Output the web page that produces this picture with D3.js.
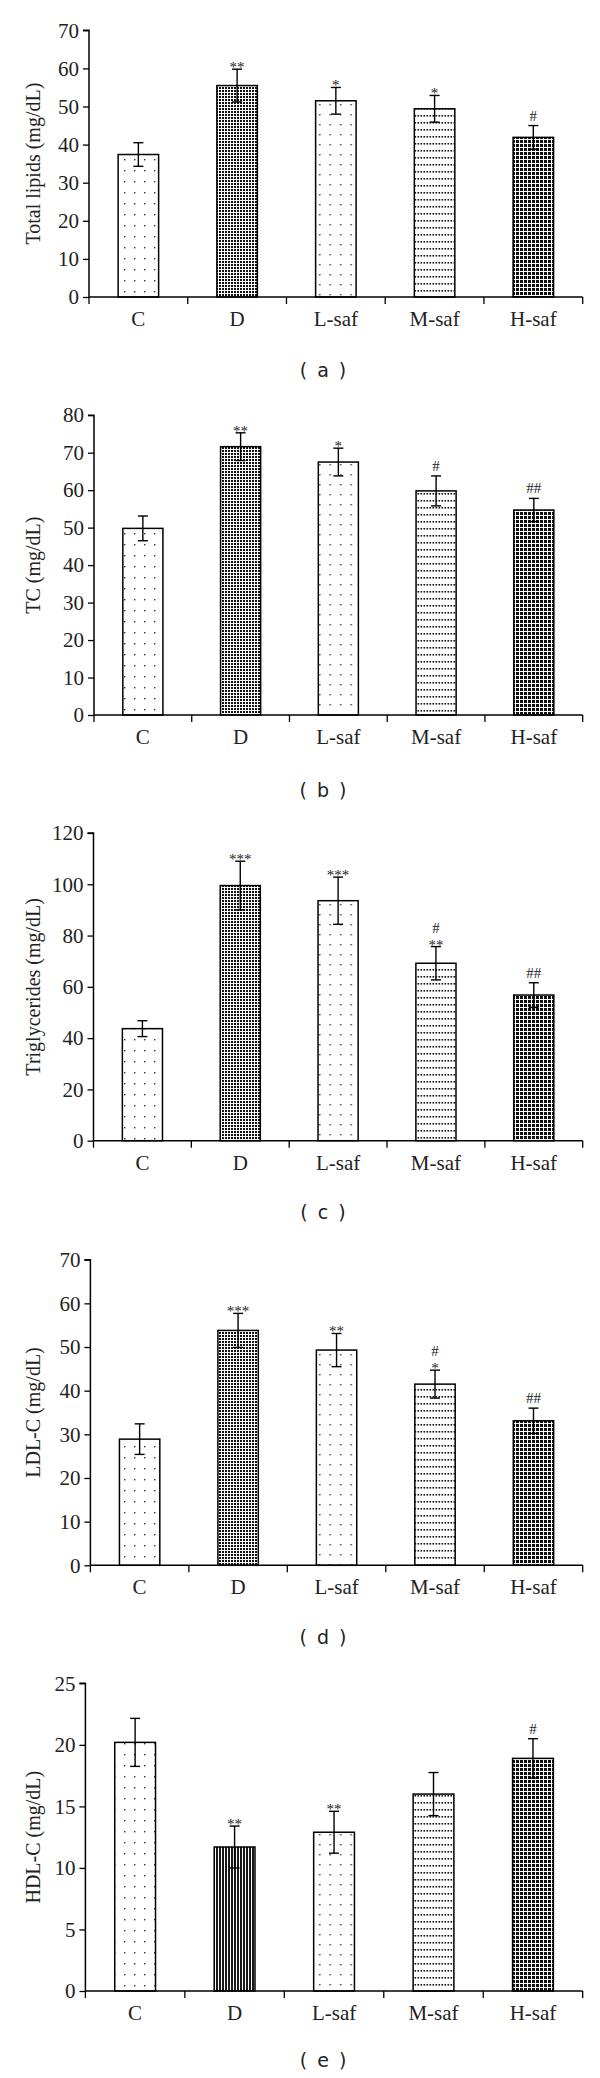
<!DOCTYPE html>
<html><head><meta charset="utf-8">
<script src="https://cdn.jsdelivr.net/npm/d3@7"></script>
<style>html,body{margin:0;padding:0;background:#fff;}svg{display:block;}</style>
</head><body>
<svg id="chart" width="600" height="2078"></svg>
<script>
const categories = ["C", "D", "L-saf", "M-saf", "H-saf"];

const totalLipids = [37.4, 55.5, 51.5, 49.4, 41.9];
const totalLipidsErr = [3.1, 4.3, 3.5, 3.5, 3.1];
const totalLipidsSig = [[], ["**"], ["*"], ["*"], ["#"]];

const tc = [49.8, 71.6, 67.5, 59.8, 54.7];
const tcErr = [3.3, 3.7, 3.7, 4.0, 3.1];
const tcSig = [[], ["**"], ["*"], ["#"], ["##"]];

const tg = [43.7, 99.5, 93.6, 69.2, 56.8];
const tgErr = [3.1, 9.5, 9.2, 6.5, 4.8];
const tgSig = [[], ["***"], ["***"], ["**", "#"], ["##"]];

const ldl = [28.9, 53.8, 49.3, 41.5, 33.1];
const ldlErr = [3.5, 3.9, 3.8, 3.2, 2.9];
const ldlSig = [[], ["***"], ["**"], ["*", "#"], ["##"]];

const hdl = [20.2, 11.7, 12.9, 16.0, 18.9];
const hdlErr = [1.95, 1.7, 1.7, 1.75, 1.6];
const hdlSig = [[], ["**"], ["**"], [], ["#"]];

const yTitles = ["Total lipids (mg/dL)", "TC (mg/dL)", "Triglycerides (mg/dL)", "LDL-C (mg/dL)", "HDL-C (mg/dL)"];
const yMax = [70, 80, 120, 70, 25];
const yStep = [10, 10, 20, 10, 5];
const captions = ["( a )", "( b )", "( c )", "( d )", "( e )"];

// layout (pixels)
const layout = [
  {x0: 89, y0: 297, yTop: 30.3, capY: 377},
  {x0: 94, y0: 715, yTop: 415.2, capY: 797},
  {x0: 93.5, y0: 1140.7, yTop: 833, capY: 1219},
  {x0: 90.4, y0: 1565.3, yTop: 1259.7, capY: 1644},
  {x0: 85.4, y0: 1991, yTop: 1683.3, capY: 2067}
];
const xEnd = 582.7;
const capX = 324;

const svg = d3.select("#chart");
const defs = svg.append("defs");

function pat(id, w, h, bg, draw) {
  const p = defs.append("pattern").attr("id", id).attr("patternUnits", "userSpaceOnUse")
    .attr("width", w).attr("height", h);
  p.append("rect").attr("width", w).attr("height", h).attr("fill", bg);
  draw(p);
}
pat("pC", 10, 11, "#fff", p => p.append("rect").attr("x", 4).attr("y", 5).attr("width", 1.4).attr("height", 1.4).attr("fill", "#333"));
pat("pD", 3, 3, "#fff", p => p.append("rect").attr("x", 0).attr("y", 0).attr("width", 2).attr("height", 2).attr("fill", "#111"));
pat("pDv", 3, 3, "#fff", p => p.append("rect").attr("x", 0).attr("y", 0).attr("width", 2).attr("height", 3).attr("fill", "#1a1a1a"));
pat("pL", 10.5, 10, "#fff", p => p.append("rect").attr("x", 4).attr("y", 4).attr("width", 1.4).attr("height", 1.4).attr("fill", "#333"));
pat("pM", 3, 7, "#fff", p => p.append("rect").attr("x", 0.5).attr("y", 3).attr("width", 1.6).attr("height", 1.6).attr("fill", "#111"));
pat("pH", 4, 4, "#fff", p => p.append("rect").attr("x", 0).attr("y", 0).attr("width", 3).attr("height", 3).attr("fill", "#111"));

const fills = [
  ["url(#pC)", "url(#pD)", "url(#pL)", "url(#pM)", "url(#pH)"],
  ["url(#pC)", "url(#pD)", "url(#pL)", "url(#pM)", "url(#pH)"],
  ["url(#pC)", "url(#pD)", "url(#pL)", "url(#pM)", "url(#pH)"],
  ["url(#pC)", "url(#pD)", "url(#pL)", "url(#pM)", "url(#pH)"],
  ["url(#pC)", "url(#pDv)", "url(#pL)", "url(#pM)", "url(#pH)"]
];

const datasets = [
  [totalLipids, totalLipidsErr, totalLipidsSig],
  [tc, tcErr, tcSig],
  [tg, tgErr, tgSig],
  [ldl, ldlErr, ldlSig],
  [hdl, hdlErr, hdlSig]
];

const serif = "'Liberation Serif', 'Times New Roman', serif";

datasets.forEach(([vals, errs, sigs], i) => {
  const L = layout[i];
  const g = svg.append("g");
  const x = d3.scaleBand().domain(categories).range([L.x0, xEnd]).paddingInner(0.59).paddingOuter(0.295);
  const y = d3.scaleLinear().domain([0, yMax[i]]).range([L.y0, L.yTop]);

  g.selectAll("rect.bar").data(vals).join("rect")
    .attr("x", (d, j) => x(categories[j]))
    .attr("y", d => y(d))
    .attr("width", x.bandwidth())
    .attr("height", d => y(0) - y(d))
    .attr("fill", (d, j) => fills[i][j])
    .attr("stroke", "#000").attr("stroke-width", 1.5);

  const cx = j => x(categories[j]) + x.bandwidth() / 2;
  vals.forEach((v, j) => {
    const e = errs[j];
    g.append("line").attr("x1", cx(j)).attr("x2", cx(j)).attr("y1", y(v + e)).attr("y2", y(v - e))
      .attr("stroke", "#000").attr("stroke-width", 1.4);
    [v + e, v - e].forEach(t => g.append("line").attr("x1", cx(j) - 5).attr("x2", cx(j) + 5)
      .attr("y1", y(t)).attr("y2", y(t)).attr("stroke", "#000").attr("stroke-width", 1.4));
    let base = y(v + e);
    sigs[j].forEach((s, k) => {
      const isStar = s[0] === "*";
      let by;
      if (k === 0) by = isStar ? base + 3 : base - 5;
      else by = base - 17;
      g.append("text").attr("x", cx(j)).attr("y", by).attr("text-anchor", "middle")
        .attr("font-family", serif).attr("font-size", 15).attr("fill", "#222").text(s);
      base = by;
    });
  });

  const yAxis = d3.axisLeft(y).tickValues(d3.range(0, yMax[i] + 0.001, yStep[i])).tickSize(6).tickPadding(4).tickSizeOuter(0);
  const ya = g.append("g").attr("transform", `translate(${L.x0},0)`).call(yAxis);
  ya.select(".domain").attr("stroke-width", 1.5).attr("d", `M-6,${L.yTop}H0V${L.y0}`);
  ya.selectAll("text").attr("font-family", serif).attr("font-size", 21).attr("fill", "#222");
  ya.selectAll("line").attr("stroke-width", 1.3);

  g.append("line").attr("x1", L.x0).attr("x2", xEnd).attr("y1", L.y0).attr("y2", L.y0).attr("stroke", "#000").attr("stroke-width", 1.5);
  const edges = [L.x0].concat(d3.range(1, categories.length).map(j => L.x0 + j * (xEnd - L.x0) / categories.length)).concat([xEnd]);
  g.selectAll("line.xt").data(edges).join("line").attr("class", "xt")
    .attr("x1", d => d).attr("x2", d => d).attr("y1", L.y0).attr("y2", L.y0 + 7)
    .attr("stroke", "#000").attr("stroke-width", 1.3);
  g.selectAll("text.xl").data(categories).join("text").attr("class", "xl")
    .attr("x", c => x(c) + x.bandwidth() / 2).attr("y", L.y0 + 29)
    .attr("text-anchor", "middle").attr("font-family", serif).attr("font-size", 21).attr("fill", "#222").text(c => c);

  g.append("text").attr("transform", `translate(33,${(L.y0 + L.yTop) / 2}) rotate(-90)`)
    .attr("text-anchor", "middle").attr("dominant-baseline", "central")
    .attr("font-family", serif).attr("font-size", 20).attr("fill", "#222").text(yTitles[i]);

  svg.append("text").attr("x", capX).attr("y", L.capY).attr("text-anchor", "middle")
    .attr("font-family", "'DejaVu Sans', Verdana, sans-serif").attr("font-size", 19)
    .attr("letter-spacing", 2).attr("fill", "#222").attr("xml:space", "preserve").text(captions[i]);
});
</script>
</body></html>
